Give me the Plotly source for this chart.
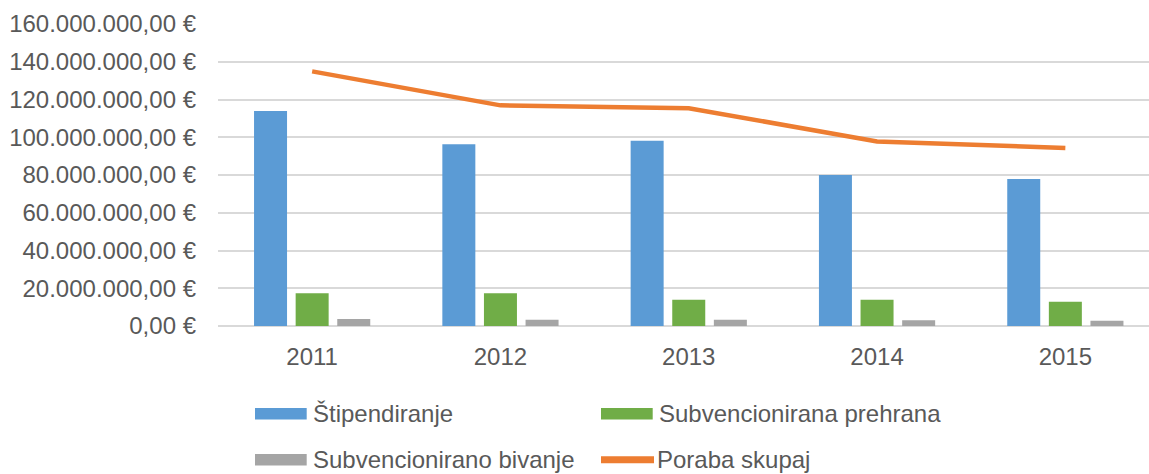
import plotly.graph_objects as go

years = ["2011", "2012", "2013", "2014", "2015"]
stipendiranje = [113.9e6, 96.3e6, 98.2e6, 80.0e6, 77.9e6]
prehrana = [17.3e6, 17.3e6, 13.9e6, 13.9e6, 12.9e6]
bivanje = [3.7e6, 3.3e6, 3.3e6, 3.0e6, 2.8e6]
poraba = [134.9e6, 116.9e6, 115.4e6, 97.8e6, 94.3e6]

y_ticks = [0, 20e6, 40e6, 60e6, 80e6, 100e6, 120e6, 140e6, 160e6]
y_labels = ["0,00 €", "20.000.000,00 €", "40.000.000,00 €", "60.000.000,00 €",
            "80.000.000,00 €", "100.000.000,00 €", "120.000.000,00 €",
            "140.000.000,00 €", "160.000.000,00 €"]

names = ["Štipendiranje", "Subvencionirana prehrana", "Subvencionirano bivanje", "Poraba skupaj"]
colors = ["#5b9bd5", "#70ad47", "#a5a5a5", "#ed7d31"]

FONT = "Liberation Sans, Arial, sans-serif"
TXT = "#595959"

W, H = 1149, 474
L, T, B = 218, 24.3, 147.7
PW, PH = W - L, H - T - B

fig = go.Figure()
for vals, nm, col in zip([stipendiranje, prehrana, bivanje], names[:3], colors[:3]):
    fig.add_trace(go.Bar(x=years, y=vals, name=nm, marker=dict(color=col, line=dict(width=0)),
                         showlegend=False))
fig.add_trace(go.Scatter(x=years, y=poraba, name=names[3], mode="lines",
                         line=dict(color=colors[3], width=4.5), showlegend=False))


def px_x(px):
    return (px - L) / PW


def px_y(py):
    return (H - B - py) / PH


# manual legend (pixel layout positions)
legend_items = [  # (symbol x0, row y, kind)
    (255, 414.0, "bar"), (601, 414.0, "bar"), (255, 460.0, "bar"), (599, 460.0, "line")
]
shapes = []
annotations = []
for (sx, sy, kind), nm, col in zip(legend_items, names, colors):
    if kind == "bar":
        shapes.append(dict(type="rect", xref="paper", yref="paper",
                           x0=px_x(sx), x1=px_x(sx + 51.7), y0=px_y(sy + 5.8), y1=px_y(sy - 5.8),
                           fillcolor=col, line=dict(width=0)))
    else:
        shapes.append(dict(type="line", xref="paper", yref="paper",
                           x0=px_x(sx + 2), x1=px_x(sx + 55), y0=px_y(sy), y1=px_y(sy),
                           line=dict(color=col, width=7)))
    annotations.append(dict(text=nm, xref="paper", yref="paper", x=px_x(sx + 56), y=px_y(sy),
                            xanchor="left", yanchor="middle", showarrow=False,
                            font=dict(family=FONT, size=24, color=TXT)))

fig.update_layout(
    width=W, height=H,
    margin=dict(l=L, r=0, t=T, b=B, pad=0, autoexpand=False),
    paper_bgcolor="white", plot_bgcolor="white",
    barmode="group", bargap=0.337, bargroupgap=0.207,
    font=dict(family=FONT, size=24, color=TXT),
    showlegend=False,
    xaxis=dict(type="category", range=[-0.5, -0.5 + PW / 188.3], showgrid=False, showline=False,
               zeroline=False, ticks="", tickfont=dict(size=24, color=TXT),
               ticklabelstandoff=14, automargin=False),
    yaxis=dict(range=[0, 160e6], tickvals=y_ticks, ticktext=y_labels,
               showgrid=True, gridcolor="#d9d9d9", gridwidth=1.5,
               zeroline=True, zerolinecolor="#d9d9d9", zerolinewidth=1.5,
               showline=False, ticks="", tickfont=dict(size=24, color=TXT),
               ticklabelstandoff=21, automargin=False),
    shapes=shapes,
    annotations=annotations,
)

fig.write_html("out.html", config={"displayModeBar": False},
               post_script="document.body.style.margin='0';document.body.style.overflow='hidden';")
